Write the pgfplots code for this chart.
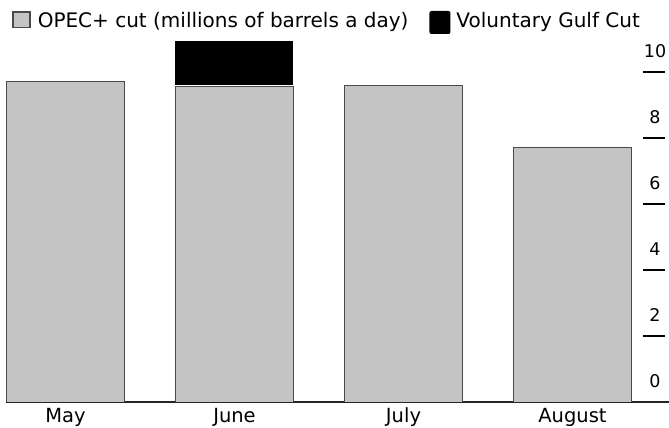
\documentclass[border=0pt]{standalone}
\usepackage{fontspec}
\setmainfont{DejaVu Sans}
\usepackage{pgfplots}
\pgfplotsset{compat=1.18}
\definecolor{opecgray}{HTML}{C4C4C4}
\definecolor{edgegray}{HTML}{4A4A4A}
\begin{document}
\begin{tikzpicture}
\useasboundingbox (-6pt,-26pt) rectangle (663pt,402pt);
\begin{axis}[
  at={(0,0)}, anchor=south west,
  scale only axis, width=663pt, height=402pt,
  xmin=-0.352, xmax=3.571, ymin=0, ymax=12.18,
  ybar stacked, bar width=118pt,
  axis x line*=bottom, axis y line*=right,
  y axis line style={draw=none},
  x axis line style={line width=1.3pt, black!85},
  xtick={0,1,2,3}, xticklabels={May,June,July,August},
  major x tick style={draw=none},
  xticklabel style={font=\fontsize{19.5}{19.5}\selectfont, anchor=base, yshift=-20.5pt},
  ytick={0,2,4,6,8,10},
  tick align=inside,
  major tick length=22pt,
  major y tick style={line width=1.6pt, black, xshift=-4pt},
  yticklabel pos=right,
  yticklabel style={anchor=base, xshift=-14pt, yshift=14.5pt, font=\fontsize{17.5}{17.5}\selectfont},
  /pgf/number format/assume math mode=true,
  legend style={at={(0,1)}, anchor=north west, draw=none, fill=none, inner sep=0pt, outer sep=0pt,
    yshift=-11pt, font=\fontsize{20}{20}\selectfont,
    nodes={inner sep=0pt, text height=15pt, text depth=4pt},
    column sep=0pt,
    /tikz/every even column/.append style={column sep=21pt}},
  legend columns=2, legend cell align=left,
]
\addplot[fill=opecgray, draw=edgegray, line width=0.8pt,
  legend image code/.code={\path (0pt,0pt) (31pt,0pt);
    \draw[fill=opecgray, draw=edgegray, line width=1.2pt] (6.5pt,-5pt) rectangle (23.5pt,10.5pt);}]
  coordinates {(0,9.7) (1,9.55) (2,9.6) (3,7.7)};
\addlegendentry{OPEC+ cut (millions of barrels a day)}
\addplot[fill=white, draw=none, forget plot]
  coordinates {(0,0) (1,0.06) (2,0) (3,0)};
\addplot[fill=black, draw=none,
  legend image code/.code={\path (0pt,0pt) (27pt,0pt);
    \fill[black, rounded corners=2pt] (0pt,-11.5pt) rectangle (21pt,11.5pt);}]
  coordinates {(0,0) (1,1.34) (2,0) (3,0)};
\addlegendentry{Voluntary Gulf Cut}
\end{axis}
\end{tikzpicture}
\end{document}
